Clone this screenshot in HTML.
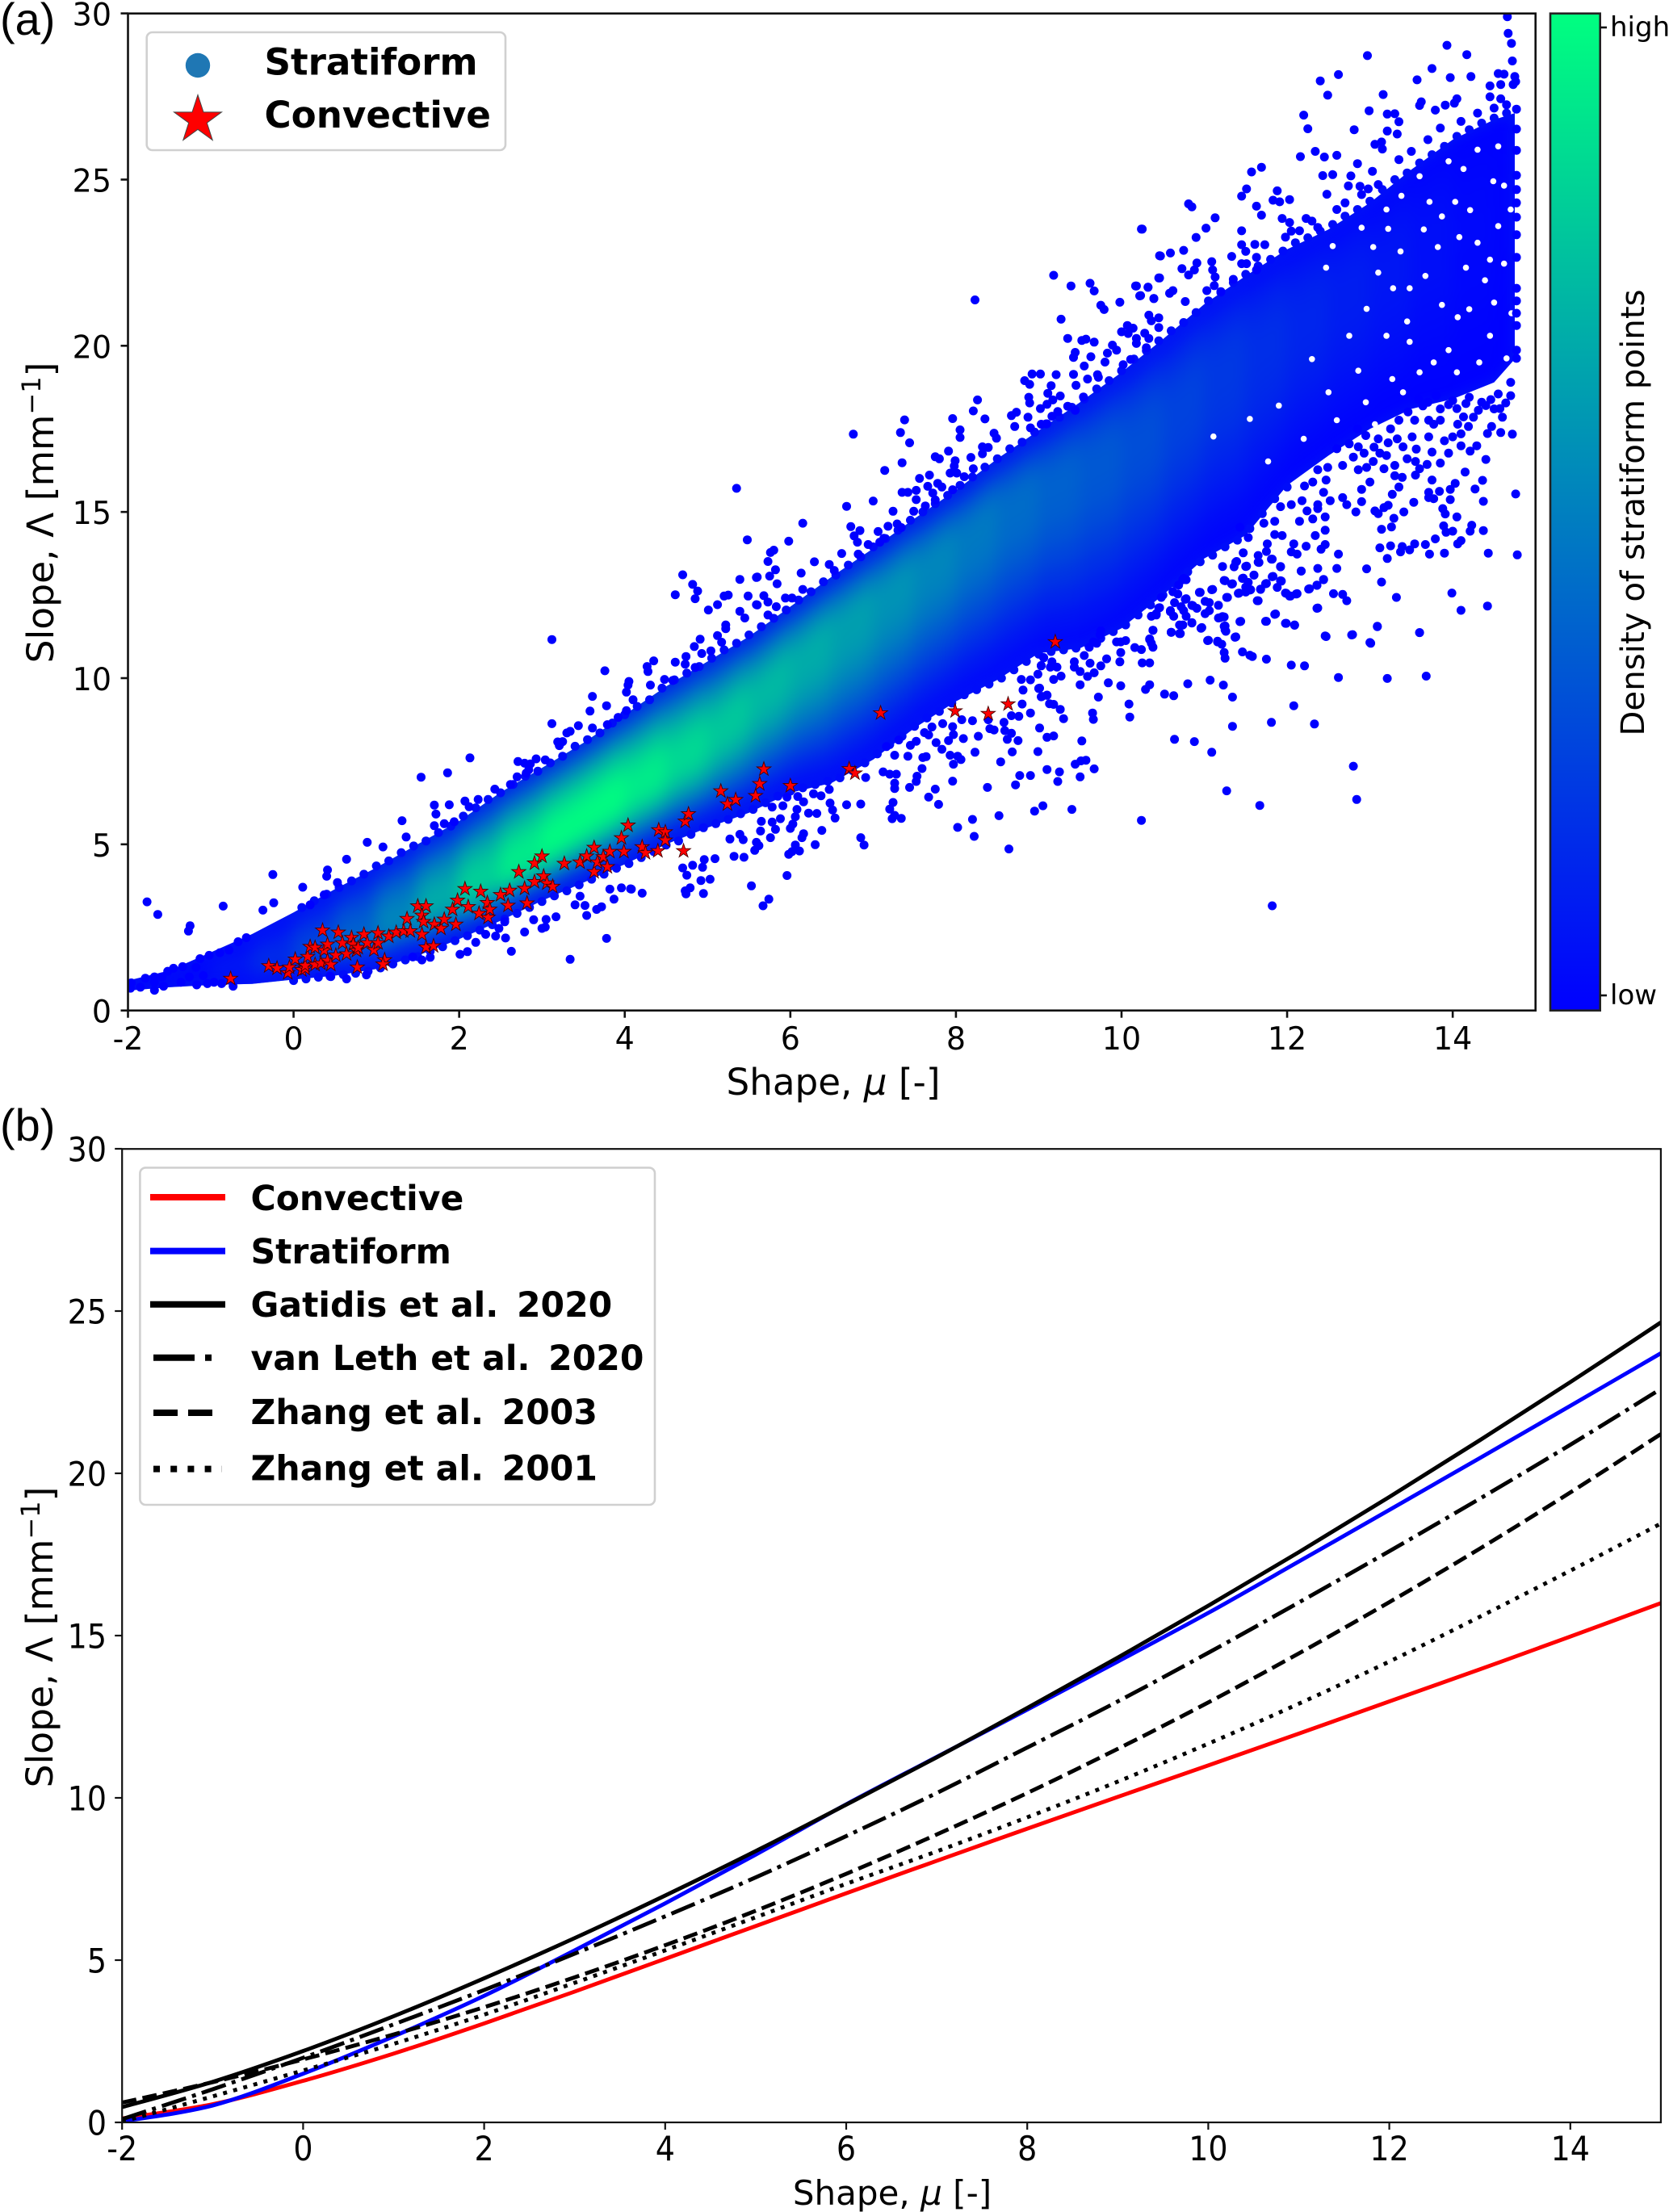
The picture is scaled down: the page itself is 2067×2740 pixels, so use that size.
<!DOCTYPE html>
<html lang="en">
<head>
<meta charset="utf-8">
<title>Shape-slope relation of rain drop size distributions</title>
<style>
html,body{margin:0;padding:0;background:#fff;}
svg{display:block;}
text{font-family:"DejaVu Sans","Liberation Sans",sans-serif;fill:#000;white-space:pre;}
.panel-tag{font-family:"Liberation Sans",sans-serif;font-size:56px;}
.tick{font-size:38px;}
.cbtick{font-size:34px;}
.axis-title{font-size:45.2px;}
.axis-title-y{font-size:45.6px;}
.axis-title-b{font-size:42px;}
.leg-a{font-size:45.2px;font-weight:bold;}
.leg-b{font-size:42.5px;font-weight:bold;}
</style>
</head>
<body>
<svg id="figure" xmlns="http://www.w3.org/2000/svg" width="2067" height="2740" viewBox="0 0 2067 2740">
  <defs>
    <clipPath id="clip-a"><rect x="158.5" y="16.7" width="1743.2" height="1235"/></clipPath>
    <clipPath id="clip-b"><rect x="151.2" y="1423.2" width="1905.7" height="1205.8"/></clipPath>
    <clipPath id="clip-band"><polygon id="band-clip-shape" points="0,0"/></clipPath>
    <filter id="soft" x="-3%" y="-3%" width="106%" height="106%" color-interpolation-filters="sRGB"><feGaussianBlur stdDeviation="9"/></filter>
    <linearGradient id="winter" x1="0" y1="0" x2="0" y2="1">
      <stop offset="0" stop-color="rgb(0,255,128)"/>
      <stop offset="1" stop-color="rgb(0,0,255)"/>
    </linearGradient>
  </defs>

  <rect x="0" y="0" width="2067" height="2740" fill="#fff"/>

  <text class="panel-tag" x="0" y="43">(a)</text>
  <text class="panel-tag" x="0" y="1413">(b)</text>

  <g id="plot-a" clip-path="url(#clip-a)">
    <g id="band-under"></g>
    <g clip-path="url(#clip-band)">
      <g id="band-mesh" filter="url(#soft)"></g>
    </g>
    <g id="band-gaps"></g>
    <g id="strat-dots"></g>
    <g id="conv-stars"></g>
  </g>
  <rect x="158.5" y="16.7" width="1743.2" height="1235" fill="none" stroke="#111" stroke-width="2.6"/>
  <g id="axes-a"></g>

  <text class="axis-title" x="1032" y="1356" text-anchor="middle">Shape, <tspan font-style="italic">μ</tspan> [-]</text>
  <text class="axis-title-y" transform="translate(66,635) rotate(-90)" text-anchor="middle">Slope, Λ [mm<tspan dy="-16" font-size="32">−1</tspan><tspan dy="16">]</tspan></text>

  <g>
    <rect x="181.7" y="40" width="444.3" height="146" rx="7" fill="#fff" stroke="#d0d0d0" stroke-width="2.6"/>
    <circle cx="245" cy="81" r="15.2" fill="#1f77b4"/>
    <text class="leg-a" x="327.5" y="92.7">Stratiform</text>
    <path id="legend-star" fill="#f00" stroke="#444" stroke-width="1"/>
    <text class="leg-a" x="327.5" y="158">Convective</text>
  </g>

  <g>
    <rect x="1920" y="16.7" width="61.7" height="1235" fill="url(#winter)" stroke="#222" stroke-width="2.6"/>
    <line x1="1981.7" x2="1990" y1="34" y2="34" stroke="#111" stroke-width="2.6"/>
    <line x1="1981.7" x2="1990" y1="1233" y2="1233" stroke="#111" stroke-width="2.6"/>
    <text class="cbtick" x="1994" y="45">high</text>
    <text class="cbtick" x="1994" y="1244">low</text>
    <text font-size="40.3" transform="translate(2036,635) rotate(-90)" text-anchor="middle">Density of stratiform points</text>
  </g>

  <g id="plot-b" clip-path="url(#clip-b)"></g>
  <rect x="151.2" y="1423.2" width="1905.7" height="1205.8" fill="none" stroke="#111" stroke-width="2.2"/>
  <g id="axes-b"></g>

  <text class="axis-title-b" x="1105" y="2731" text-anchor="middle">Shape, <tspan font-style="italic">μ</tspan> [-]</text>
  <text class="axis-title-y" transform="translate(65,2028) rotate(-90)" text-anchor="middle">Slope, Λ [mm<tspan dy="-16" font-size="32">−1</tspan><tspan dy="16">]</tspan></text>

  <g>
    <rect x="173.4" y="1446.4" width="637.6" height="417.6" rx="7" fill="#fff" stroke="#d0d0d0" stroke-width="2.6"/>
    <line x1="186" x2="279" y1="1483" y2="1483" stroke="#f00" stroke-width="8"/>
    <line x1="186" x2="279" y1="1549.6" y2="1549.6" stroke="#00f" stroke-width="8"/>
    <line x1="186" x2="279" y1="1615.7" y2="1615.7" stroke="#000" stroke-width="8"/>
    <line x1="190" x2="275" y1="1681.8" y2="1681.8" stroke="#000" stroke-width="8" stroke-dasharray="51 13 8 13"/>
    <line x1="190" x2="275" y1="1750" y2="1750" stroke="#000" stroke-width="8" stroke-dasharray="30 13"/>
    <line x1="190" x2="275" y1="1819.6" y2="1819.6" stroke="#000" stroke-width="8" stroke-dasharray="8 13.2"/>
    <text class="leg-b" x="310.5" y="1499">Convective</text>
    <text class="leg-b" x="310.5" y="1565">Stratiform</text>
    <text class="leg-b" x="310.5" y="1631">Gatidis et al.  <tspan dx="-7">2020</tspan></text>
    <text class="leg-b" x="310.5" y="1697">van Leth et al.  <tspan dx="-7">2020</tspan></text>
    <text class="leg-b" x="310.5" y="1764">Zhang et al.  <tspan dx="-7">2003</tspan></text>
    <text class="leg-b" x="310.5" y="1833.5">Zhang et al.  <tspan dx="-7">2001</tspan></text>
  </g>
</svg>

<script>
/* ---------- axis tick values ---------- */
const xTicks = [-2,0,2,4,6,8,10,12,14];
const yTicks = [0,5,10,15,20,25,30];

/* ---------- panel (a): stratiform density cloud ---------- */
const bandMu     = [-2,-1.5,-1,-0.5,0,0.5,1,1.5,2,2.5,3,3.5,4,4.5,5,5.5,6,6.5,7,7.5,8,8.5,9,9.5,10,10.5,11,11.5,12,12.5,13,13.5,14,14.5,14.75];
const bandTop    = [0.9,1.2,1.75,2.3,2.95,3.65,4.3,5,5.7,6.56,7.3,8.05,8.9,9.75,10.5,11.25,12.15,13.05,13.9,14.8,15.65,16.6,17.45,18.3,19.2,20.2,21.25,22.1,22.9,23.5,24.3,25.3,26.2,26.8,27];
const bandBottom = [0.6,0.7,0.77,0.8,0.93,1.05,1.25,1.65,2.15,2.7,3.3,3.85,4.4,5,5.5,5.95,6.55,6.85,7.55,8.5,9.3,9.95,10.75,10.9,11.5,12.5,13.6,14.3,15.8,16.7,17.5,18.1,18.4,18.9,19.6];
const bandRidge  = [0.7,0.9,1.1,1.3,1.6,2,2.45,3,3.6,4.2,4.95,5.75,6.55,7.3,8.1,9.2,10.3,11.3,12.2,13.1,14,15,15.7,16.3,16.9,17.7,18.9,19.7,20.5,21.3,22,22.7,23.3,23.9,24.2];
const bandPeak   = [0,0.02,0.06,0.12,0.22,0.32,0.45,0.6,0.75,0.88,0.97,1,0.97,0.88,0.82,0.75,0.7,0.65,0.6,0.55,0.5,0.45,0.4,0.36,0.33,0.28,0.24,0.2,0.16,0.13,0.1,0.07,0.04,0.02,0.01];
const lowerSideDensity = [0.04,0.12,0.28,0.46,0.64,0.8,0.93,1,1];
const upperSideDensity = [1,1,0.96,0.88,0.78,0.65,0.5,0.34,0.18];

/* white gaps between points in the sparse right part of the cloud */
const cloudGaps = [[13.38,24.51],[13.72,24.33],[13.87,23.89],[14.03,24.33],[14.21,24.08],[14.49,24.95],[14.62,24.82],[14.13,25.32],[13.04,22.97],[13.22,23.52],[13.37,22.84],[13.82,22.97],[14.08,23.27],[14.45,22.59],[13.48,21.73],[13.28,21.73],[13.67,22.1],[13.87,21.23],[14.16,22.35],[14.39,21.97],[14.06,20.86],[13.45,20.73],[13.77,19.5],[12.86,19.25],[13.27,19],[12.6,17.76],[13.06,17.64],[11.77,16.52],[11.11,17.27],[12.47,22.35],[12.96,21.11],[13.48,20.12],[13.95,19.87],[14.32,19.5],[14.62,22.47],[14.71,20.98],[14.65,19.62],[13.51,18.01],[14.3,25.9],[14.55,26],[13.95,25.55],[13.6,25.1],[13.2,24.1],[12.9,23.55],[12.55,23],[13.1,22.2],[13.65,23.5],[14.3,23.1],[14.55,23.6],[14.7,24.1],[14.2,21.1],[14.5,21.3],[14.45,20.3],[14.05,19.2],[13.6,19.2],[13.2,20.3],[12.75,20.3],[12.3,19.6],[12.5,18.6],[12.95,18.3],[13.4,18.6],[12.2,17.2],[11.9,18.2],[11.55,17.8]];

/* ---------- panel (a): individual stratiform points ---------- */
const stratLeftTail = [[-1.96,.83],[-1.97,.67],[-1.85,.7],[-1.68,.61],[-1.57,.73],[-1.79,.97],[-1.68,1.01],[-1.59,1.01],[-1.68,.85],[-1.36,.85],[-1.52,1.18],[-1.45,1.27],[-1.34,1.32],[-1.26,1.01],[-1.18,1.3],[-1.13,1.56],[-1.17,.77],[-1.09,1.05],[-1.04,.81],[-.96,.85],[-.87,.81],[-1.02,1.66],[-.89,1.74],[-.73,.73],[-.57,2.19],[-.67,2.07],[-.78,1.82],[-1.77,3.27],[-1.64,2.89],[-.85,3.14],[-.37,3.02],[-.24,3.24],[-1.25,2.55],[-1.27,2.39],[-.25,4.09],[.11,3.71],[.37,3.48],[.2,3.18],[.89,5.06],[1.08,4.92],[.64,4.55],[.41,4.23],[.4,4.04],[.53,3.85]];

const stratUpperMid = [[5.35,15.71],[5.48,14.16],[4.7,13.11],[4.82,12.82],[4.88,12.62],[4.61,12.51],[4.85,12.39],[5.39,12.97],[5.59,13.03],[5.2,12.47],[5.25,12.5],[5.49,12.47],[5.12,12.21],[5.01,12.05],[5.59,12.21],[5.39,12.01],[5.45,11.81],[5.22,11.6],[5.22,11.49],[5.12,11.28],[4.91,11.17],[4.84,10.95],[5.17,11.08],[5.04,10.82],[4.93,10.74],[4.74,10.65],[4.61,10.48],[4.73,10.42],[4.35,10.52],[4.27,10.35],[4.28,10.2],[4.85,10.32],[3.76,10.22],[4.58,9.93],[4.48,9.96],[4.05,9.9],[4.04,9.79],[4.31,9.79],[4.02,9.58],[3.12,11.16],[3.61,9.45],[3.78,9.17],[3.58,9.01],[4.1,9.35],[4.02,9.02],[3.92,8.82],[3.12,8.63],[3.44,8.57],[3.61,8.5],[3.79,8.6],[3.34,8.4],[3.3,8.35],[3.25,8.09],[3.19,8.08],[3.21,7.97],[2.13,7.6],[1.86,7.15],[1.54,7.02],[2.71,7.49],[2.79,7.44],[2.86,7.42],[2.93,7.57],[3.04,7.54],[2.84,7.24],[2.81,7.14],[2.7,7.03],[2.43,6.66],[2.62,6.8],[1.7,6.18],[1.88,6.19],[1.72,5.91],[2.07,6.3],[2.12,6.13],[2.23,6.35],[1.31,5.71],[1.7,5.56],[1.82,5.62],[1.94,5.68],[1.36,5.22]];

const stratUpperRight = [[10.25,23.51],[10.46,22.71],[10.45,22.04],[9.18,22.12],[9.39,21.8],[9.62,21.88],[9.67,21.65],[8.23,21.38],[10.18,21.8],[10.32,21.76],[10.23,21.51],[10.39,21.42],[9.98,21.31],[9.75,21.22],[9.79,21.09],[9.27,20.8],[10.33,20.92],[10.36,20.75],[10.45,20.84],[10.07,20.61],[10,20.42],[10.08,20.37],[10.14,20.53],[10.45,20.55],[10.28,20.38],[10.18,20.22],[10.18,20.07],[10.33,20.22],[9.35,20.22],[9.52,20.16],[9.57,20.2],[9.67,20.11],[9.89,20.02],[9.94,19.87],[9.83,19.78],[9.44,19.8],[9.42,19.65],[9.63,19.67],[9.8,19.51],[9.55,19.39],[10.3,19.94],[10.11,19.59],[10.02,19.43],[8.92,19.15],[9.02,19.15],[9.21,19.13],[8.83,18.95],[8.89,18.84],[9.42,19.14],[9.71,19.13],[9.72,19.05],[9.59,19],[9.45,18.81],[9.15,18.8],[9.11,18.57],[9.26,18.49],[9.17,18.37],[8.88,18.45],[8.89,18.28],[8.26,18.37],[8.21,18.04],[7.96,17.81],[8.35,17.8],[7.38,17.77],[7.33,17.39],[7.44,17.08],[6.76,17.34],[8.05,17.47],[8.05,17.24],[8.46,17.37],[8.49,17.22],[8.67,17.9],[8.73,18],[8.87,17.85],[8.71,17.57],[9.1,18.24],[9.02,18.11],[9.35,18.18],[9.44,18.06],[9.54,18.46],[9.16,17.88],[9.23,18.02],[9.03,17.64],[9.09,17.65],[8.9,17.53],[8.32,16.96],[8.39,16.94],[8.32,16.75],[7.91,16.83],[7.75,16.66],[7.8,16.6],[8.18,16.64],[7.99,16.54],[7.98,16.38],[7.35,16.48],[7.14,16.25],[8.21,16.3],[7.93,16.17],[8.01,16.17],[8.1,16.06],[7.56,16.01],[7.68,16.11],[7.78,15.86],[7.83,15.75],[7.66,15.77],[7.52,15.65],[7.35,15.59],[7.42,15.59],[7.72,15.57],[7.75,15.36],[7.52,15.37],[7,15.33],[6.68,15.17],[7.63,15.18],[7.24,15.02],[7.49,15.02],[7.96,15.67],[6.15,14.66],[6.73,14.56],[6.84,14.44],[7.06,14.41],[7.18,14.57],[7.29,14.64],[7.34,14.53],[6.77,14.28],[6.81,14.09],[7.13,14.21],[7.08,14.09],[6.94,14.02],[5.98,14.12],[5.8,13.85],[5.76,13.78],[5.73,13.51],[5.82,13.26],[5.75,13.07],[5.6,13.04],[5.84,12.84],[6.29,13.5],[6.13,13.16],[6.62,13.75],[6.47,13.42],[6.53,13.24],[6.82,13.73],[6.15,12.67],[5.68,12.48],[5.73,12.29],[5.6,12.2],[5.94,12.41],[6.02,12.41],[5.83,12.15],[5.73,11.9]];

const stratTopRight = [[14.66,29.9],[14.67,29.4],[14.71,29.1],[14.72,28.57],[13.93,29.04],[14.17,28.76],[12.97,28.73],[13.75,28.34],[13.97,28.07],[14.22,28.1],[13.57,28],[12.4,27.97],[12.62,28.16],[12.49,27.54],[13.16,27.56],[12.2,26.94],[12.25,26.53],[12.99,27.07],[12.81,26.5],[13.21,26.97],[13.3,26.98],[13.35,26.74],[13.21,26.46],[13.33,26.37],[13.62,27.34],[13.6,27.23],[13.79,27.09],[13.91,27.24],[14.05,27.43],[14.02,27.3],[14.55,28.19],[14.62,28.17],[14.75,28.1],[14.45,27.82],[14.58,27.86],[14.73,27.86],[14.76,27.95],[14.45,27.49],[14.58,27.43],[12.16,25.69],[12.34,25.85],[12.45,25.68],[12.6,25.73],[12.85,25.48],[13.03,25.25],[12.43,25.12],[12.55,25.15],[12.77,25.11],[12.88,24.8],[12.98,24.72],[12.74,24.81],[12.48,24.56],[13.06,26.06],[13.14,26.13],[13.15,25.92],[11.69,25.37],[11.57,25.23],[11.51,24.72],[11.45,24.5],[11.88,24.66],[12.03,24.4],[11.83,24.38],[11.91,24.33],[11.63,24.2],[11.69,23.93],[10.81,24.27],[10.85,24.18],[11.13,23.85],[11.02,23.54],[10.9,23.26],[10.24,23.51],[11.45,23.46],[10.47,22.7],[10.59,22.79],[10.75,22.87],[10.91,22.49],[10.73,22.32],[10.88,22.28],[10.81,22.13],[11.09,22.53],[11.1,22.28],[11.13,22.07],[10.46,22.04],[10.17,21.8],[10.32,21.76],[10.22,21.5],[10.39,21.42],[10.62,21.66],[10.58,21.58],[10.77,21.33],[11.03,21.66],[11.12,21.81],[11.2,21.63],[11.35,22],[11.45,23.04],[11.61,23.05],[11.73,23.04],[11.33,22.69],[11.5,22.84],[11.63,22.66],[11.45,22.47],[11.51,22.47],[11.63,22.28],[11.94,23.83],[12.03,23.71],[11.98,23.27],[12.15,23.46],[12.23,23.83],[12.37,23.56],[14.77,23.34],[14.77,23.87],[14.77,24.3],[14.77,24.7],[14.77,25.13],[14.77,25.88],[14.77,26.52],[14.77,27.12],[14.77,22.66],[14.77,21.73],[14.77,21.35],[14.77,20.98],[14.77,20.61],[14.77,19.87],[14.77,19.62],[13.35,25.6],[13.5,25.85],[13.7,26.2],[13.85,26.55],[14.1,26.75],[14.3,27],[14.5,27.15],[14.65,27.25],[13.1,24.85],[12.9,24.55],[12.6,24.1],[12.3,23.75],[12.05,23.45],[12.7,24.3]];

const stratLowerLeft = [[.44,1.03],[.64,.95],[.88,1.07],[1.44,1.61],[1.55,1.52],[1.65,1.6],[2.01,1.69],[2.1,1.77],[2.63,1.78],[2.2,2.05],[2.56,2.18],[2.32,2.29],[2.44,2.24],[2.79,2.36],[3,2.47],[3.04,2.51],[3.78,2.17],[3.34,1.54],[3.17,2.82],[3.05,2.74],[2.9,2.73],[3.54,2.86],[3.4,3.18],[3.52,3.16],[3.66,3.04],[3.72,3.12],[3.87,3.35],[3.96,3.69],[4.07,3.66],[4.21,3.53],[3.82,3.65],[3.46,3.44],[2.55,2.67],[2.48,2.47],[4.08,3.65]];

const stratLowerMid = [[4.74,3.51],[4.73,3.6],[4.79,3.69],[4.95,3.52],[4.92,3.91],[5.03,3.95],[4.75,4.07],[4.7,4.29],[4.94,4.31],[4.82,4.37],[4.96,4.54],[5.09,4.57],[5.32,4.64],[5.44,4.61],[5.53,3.75],[5.74,3.35],[5.67,3.15],[5.96,4.06],[5.98,4.7],[6.02,4.78],[6.11,4.8],[6.06,4.98],[5.57,4.82],[5.59,5.06],[5.62,4.96],[6.3,4.99],[6.14,5.2],[6.16,5.32],[6.38,5.42],[5.76,5.2],[5.64,5.4],[5.82,5.45],[6,5.48],[6.03,5.61],[5.43,5.14],[5.39,5.3],[5.27,5.16],[5.65,5.69],[5.78,5.67],[5.88,5.77],[6.06,5.83],[6.08,6.05],[6.16,6.28],[6.22,5.94],[6.32,5.93],[5.91,6.16],[5.78,6.12],[6.54,5.79],[6.51,6.03],[6.48,6.24],[6.68,6.19],[6.85,6.21],[6.85,5.2],[6.89,4.98],[6.28,6.52],[6.37,6.46],[6.47,6.65],[6.09,6.44],[5.96,6.42],[7.23,5.77],[7.34,5.78],[7.26,5.87],[7.2,6.06],[7.24,6.26],[7.26,6.84],[7.26,6.68],[7.44,6.71],[7.52,6.89],[7.53,7.05],[7.59,7.28],[7.12,7.18],[7.2,7.11],[7.28,7.11],[6.91,7.01],[7.26,7.68],[7.42,7.65],[7.6,7.61],[7.64,7.64],[7.16,7.94],[7.31,8.14],[7.52,8.1],[7.45,7.98],[7.62,8.36],[7.67,8.29],[7.71,8.53],[7.75,6.66],[7.67,6.42],[7.79,6.2],[8.02,5.51],[8.2,5.75],[8.22,5.24],[8.52,5.86],[8.64,4.86],[8.95,6],[9.05,6.16],[8.38,6.71],[8.72,6.79],[8.77,7.07],[8.9,7.07],[9.1,7.25],[7.96,6.9],[7.97,7.41],[7.93,7.68],[8.02,7.65],[8.06,7.55],[8.23,7.77],[7.83,7.86],[7.76,8.06],[7.91,8.12],[7.97,8.3],[8.09,8.18],[8.27,8.25],[8.54,7.48],[8.68,7.78],[8.99,7.79],[8.75,8.12],[8.62,8.16],[8.67,8.34],[8.58,8.67],[8.59,8.42],[8.41,8.48],[8.46,8.44],[9.01,8.5],[9.1,8.22],[8.9,8.95],[8.76,8.85],[8.67,8.87],[8.8,9.22],[9.03,9.44],[9.1,9.48],[8.81,9.64],[9,9.69],[8.2,8.72],[8.07,8.75],[8.39,8.75],[7.96,8.54],[7.84,8.63],[8.99,10.12],[9.03,10.37],[9.06,10.61],[8.9,9.95],[8.79,9.96]];

const stratLowerRight = [[11.82,3.15],[10.24,5.72],[11.27,6.61],[11.67,6.17],[12.84,6.35],[12.8,7.35],[9.4,6.05],[9.25,7.18],[9.23,6.89],[9.5,7.03],[9.67,7.27],[9.44,7.41],[9.51,7.51],[9.57,7.53],[11.09,7.77],[10.88,8.09],[10.64,8.16],[9.52,8.11],[9.18,8.26],[11.34,8.55],[11.81,8.67],[12.33,8.62],[12.08,9.17],[11.34,9.43],[10.1,8.83],[10.09,9.22],[9.66,8.76],[9.65,8.95],[9.3,8.78],[9.26,9.06],[9.13,9.23],[9.18,9.21],[9.72,9.43],[9.04,9.45],[9.1,9.49],[9.01,9.7],[9.5,9.8],[9.84,9.86],[9.99,9.77],[10.29,9.66],[10.34,9.8],[10.52,9.52],[10.63,9.47],[10.8,9.83],[11.07,9.94],[11.23,9.79],[12.62,10.02],[13.21,9.99],[13.68,10.06],[12.05,10.39],[12.21,10.37],[11.75,10.57],[11.58,10.65],[11.55,10.69],[11.46,10.79],[11.25,10.6],[11.24,10.77],[11.21,11.02],[11.16,11.11],[11.05,11.14],[11.38,11.24],[12.46,11.27],[12.79,11.31],[13.01,11.05],[13.09,11.56],[13.6,11.37],[11.99,11.65],[12.09,11.6],[11.75,11.71],[11.86,11.93],[11.43,11.7],[11.25,11.57],[11.26,11.41],[10.97,11.52],[10.74,11.6],[10.7,11.6],[10.85,11.67],[10.6,11.38],[10.71,11.34],[10.38,11.44],[10.34,11.18],[10.36,11.05],[10.38,10.93],[10.16,10.92],[10.24,10.86],[10.25,10.46],[10.34,10.46],[9.98,10.49],[9.99,10.77],[9.82,10.58],[9.75,10.37],[9.67,10.16],[9.59,10.05],[9.62,10.45],[9.43,10.49],[9.43,10.33],[9.5,10.2],[9.27,10.06],[9.18,9.96],[9.22,10.33],[9.14,10.33],[9.16,10.49],[9.03,10.38],[9.06,10.62],[9.55,10.68],[9.94,11.09],[9.99,11.09],[10.05,11.13],[9.74,11.3],[9.75,11.42],[9.66,11.09],[9.7,11.05],[9.61,10.93]];

const stratLowerFar = [[14.76,15.54],[14.78,13.71],[14.42,12.17],[14.1,12.04],[13.99,12.56],[13.6,11.37],[13.32,12.43],[13.09,11.55],[13,11.07],[12.78,11.3],[12.47,11.25],[13.14,12.89],[12.96,13.29],[12.72,12.33],[12.67,12.52],[12.56,12.54],[12.36,12.1],[12.44,12.97],[12.36,12.8],[12.26,12.68],[12.11,12.53],[12.03,12.47],[11.98,12.56],[12.09,11.59],[11.98,11.65],[11.85,11.92],[11.74,11.71],[11.44,11.71],[11.37,11.23],[11.24,11.56],[11.25,11.45],[11.16,11.09],[11.04,11.13],[10.96,11.5],[10.7,11.34],[10.6,11.38],[10.85,11.66],[10.73,11.59],[11.17,11.81],[11.22,11.85],[10.34,11.16],[10.38,11.44],[10.42,11.94],[10.46,12.12],[10.59,12],[11.64,12.33],[11.27,12.43],[11.42,12.56],[11.55,12.65],[11.68,12.68],[11.82,13.05],[11.92,12.93],[11.74,12.84],[11.6,13.1],[11.46,13],[11.33,12.83],[11.24,12.94],[11.09,12.66],[10.94,12.58],[11.01,12.31],[10.86,12.18],[10.77,12.37],[12.17,13.22],[12.37,13.3],[12.6,13.3],[11.92,13.35],[11.5,13.36],[11.81,13.58],[11.65,13.49],[12.12,13.73],[12.05,13.8],[12.23,13.97],[12.46,14.02],[12.41,13.88],[12.62,13.73],[13.21,13.6],[13.12,13.92],[13.25,13.98],[13.37,13.8],[13.39,13.96],[13.48,13.86],[13.54,14.04],[13.67,14.02],[13.72,13.73],[13.9,13.76],[14.43,13.76],[14.06,14.04],[14.1,14.14],[13.79,14.19],[14.37,14.44],[14,14.42],[13.92,14.39],[14.23,14.6],[14.21,14.42],[13.89,14.58],[14.05,14.85],[13.91,14.94],[13.88,15.1],[14.37,15.32],[13.97,15.37],[14.27,15.69],[14.36,15.95],[14.03,15.86],[14.15,16.2],[13.75,15.96],[13.97,15.68],[13.84,15.62],[13.71,15.59],[13.71,15.43],[13.77,15.4],[13.53,15.29],[13.41,15],[13.29,14.81],[13.26,14.55],[13.14,14.48],[13.22,15.2],[13.17,15.13],[13.06,15.03],[13.1,14.95],[13.27,15.53],[13.35,15.75],[13.3,16.09],[13.39,16.04],[13.55,16.11],[13.17,16.3],[13,15.9],[12.9,15.68],[12.9,15.31],[12.83,15],[12.72,15.22],[12.67,15.43],[12.52,15.34],[13.85,16.47],[13.69,16.43],[13.55,16.52],[13.95,16.77],[14.21,16.83],[14.29,16.99],[14.1,16.99],[14.4,16.58],[14.72,17.34],[14.58,17.39],[14.47,17.57],[14.42,17.36],[14.19,17.57],[14.06,17.64],[14.31,18.06],[14.57,18.11],[14.64,18.28],[14.16,18.26],[13.95,18.23],[14.46,18.38],[14.4,18.2],[14.05,18.11],[14.13,17.86],[12.34,14.29],[12.46,14.45],[12.46,14.85],[12.37,15.1],[12.08,14.04],[11.94,14.29],[11.85,14.32],[11.76,14.04],[11.53,14.23],[11.38,13.49],[11.22,13.36],[10.75,13],[10.62,12.6],[10.91,12.1],[11.06,12.27],[11.01,11.94],[11.06,12.03],[10.85,12.19],[11.17,12.19],[11.19,11.82],[11.24,11.84],[10.78,11.86],[10.72,12.15],[10.75,12.03],[10.59,12.03],[10.63,11.86],[10.64,12.27],[10.78,12.39],[10.68,12.53],[10.36,11.86],[10.42,11.9],[10.45,12.11],[10.95,12.58],[11.1,12.67],[11.28,12.43],[10.48,12.43],[10.69,12.8],[10.74,12.96],[10.78,12.96],[11.25,12.93],[11.34,12.84],[11.41,12.55],[11.5,12.59],[11.56,12.66],[11.47,13.01],[11.53,12.88],[11.5,12.74],[11.68,12.67],[11.75,12.85],[11.65,12.33],[11.83,13.06],[11.93,12.92],[11.88,12.73],[11.99,12.55],[12.04,12.47],[12.12,12.54],[12.27,12.69],[12.36,12.79],[12.44,12.96],[12.37,12.11],[11.6,13.1],[11.51,13.37],[11.39,13.51],[11.36,13.35],[12.17,13.22],[11.92,13.36],[11.82,13.58],[11.65,13.69],[11.66,13.48],[11.75,13.81],[11.47,13.77]];

/* points crowding the lower side of the sparse right part */
const stratLowerCrowd = [[12.86,16.96],[12.93,16.77],[13.04,16.52],[13.12,16.77],[13.22,17.08],[13.33,17.2],[13.4,16.96],[13.51,17.26],[13.56,16.89],[13.54,17.76],[13.46,18.01],[13.35,17.76],[13.71,17.26],[13.77,17.64],[13.85,17.76],[13.9,17.14],[14,17.26],[13.71,17.76],[13.8,18.5],[13.64,18.19],[13.59,18.38],[12.8,16.65],[12.86,16.27],[12.96,16.34],[12.67,16.4],[12.49,16.34],[12.37,16.27],[12.47,15.96],[12.31,15.9],[12.21,15.78],[12.44,15.59],[12.18,15.34],[12.24,15.03],[12.37,15.22],[12.05,15.22],[11.92,15.16],[12.15,14.72],[12.31,14.79],[11.85,14.72],[11.72,14.66],[11.43,14.54],[13.1,17.2],[13.25,17.5],[12.95,17.3],[12.85,17.5],[13.05,16.95],[13.2,16.7],[13.3,16.4],[13.45,16.6],[13.6,16.3],[13.75,16.8],[14.1,17.35],[14.25,17.85],[14.35,18.3],[14.5,18.1],[14.6,17.85],[14.7,18.5],[14.7,18.9],[14.55,18.55],[14.2,18.45],[14,18.35],[13.85,18.1],[13.7,18.3],[12.6,16.9],[12.75,17.05]];

/* points that form the rough upper and lower edges of the dense cloud */
const stratUpperEdge = [[.1,3.1],[.25,3.3],[.4,3.5],[.55,3.7],[.7,3.9],[.85,4.1],[1,4.35],[1.15,4.5],[1.3,4.75],[1.45,4.95],[1.6,5.1],[1.75,5.35],[1.9,5.55],[2.05,5.85],[2.2,6.1],[2.35,6.35],[2.5,6.55],[2.65,6.8],[2.8,7.05],[2.95,7.2],[3.1,7.45],[3.25,7.65],[3.4,7.95],[3.55,8.15],[3.7,8.35],[3.85,8.65],[4,8.9],[4.15,9.15],[4.3,9.35],[4.45,9.7],[4.6,9.95],[4.75,10.15],[4.9,10.35],[5.05,10.6],[5.2,10.85],[5.35,11.05],[5.5,11.3],[5.65,11.55],[5.8,11.8],[5.95,12.05],[6.1,12.35],[6.25,12.6],[6.4,12.9],[6.55,13.1],[6.7,13.4],[6.85,13.65],[7,13.95],[7.15,14.2],[7.3,14.45],[7.45,14.75],[7.6,15],[7.75,15.25],[7.9,15.5],[8.05,15.8],[8.2,16.05],[8.35,16.35],[8.5,16.6],[8.65,16.9],[8.8,17.1],[8.95,17.4],[9.1,17.65],[9.25,17.85],[9.4,18.15],[9.55,18.4],[9.7,18.7],[9.85,18.95],[10,19.25],[10.15,19.6],[10.3,19.85],[10.45,20.15],[10.6,20.45],[10.75,20.7],[10.9,21],[11.05,21.35],[11.2,21.6],[11.35,21.9],[11.5,22.15],[11.65,22.4],[11.8,22.6],[11.95,22.85],[12.1,23.1],[12.25,23.25],[12.4,23.45],[12.55,23.65],[12.7,23.9],[12.85,24.1],[13,24.35],[13.15,24.7],[13.3,25],[13.45,25.2],[13.6,25.5],[13.75,25.75],[13.9,26],[14.05,26.3],[14.2,26.5],[14.35,26.7],[14.5,26.85],[14.65,27]];

const stratLowerEdge = [[0,.9],[.15,.95],[.3,1],[.45,1.02],[.6,1.08],[.75,1.12],[.9,1.18],[1.05,1.28],[1.2,1.4],[1.35,1.52],[1.5,1.62],[1.65,1.78],[1.8,1.92],[1.95,2.1],[2.1,2.25],[2.25,2.42],[2.4,2.58],[2.55,2.75],[2.7,2.92],[2.85,3.1],[3,3.28],[3.15,3.45],[3.3,3.6],[3.45,3.78],[3.6,3.95],[3.75,4.1],[3.9,4.28],[4.05,4.42],[4.2,4.6],[4.35,4.78],[4.5,4.98],[4.65,5.1],[4.8,5.3],[4.95,5.5],[5.1,5.62],[5.25,5.75],[5.4,5.92],[5.55,6.05],[5.7,6.25],[5.85,6.45],[6,6.6],[6.15,6.7],[6.3,6.8],[6.45,6.9],[6.6,7],[6.75,7.22],[6.9,7.45],[7.05,7.72],[7.2,8],[7.35,8.25],[7.5,8.55],[7.65,8.8],[7.8,9],[7.95,9.25],[8.1,9.5],[8.25,9.65],[8.4,9.82],[8.55,10],[8.7,10.25],[8.85,10.5],[9,10.72],[9.15,10.8],[9.3,10.85],[9.45,10.9],[9.6,11],[9.75,11.2],[9.9,11.4],[10.05,11.6],[10.2,11.9],[10.35,12.2],[10.5,12.5],[10.65,12.85],[10.8,13.2],[10.95,13.5],[11.1,13.7],[11.25,13.95],[11.4,14.15],[11.55,14.5],[11.7,14.95],[11.85,15.4],[12,15.75]];

/* ---------- panel (a): convective points ---------- */
const convectivePoints = [[-.76,.96],[-.3,1.34],[-.2,1.27],[-.07,1.13],[-.05,1.3],[.02,1.54],[.1,1.22],[.14,1.26],[.14,1.35],[.17,1.62],[.2,1.92],[.26,1.89],[.26,1.38],[.33,1.42],[.35,2.41],[.37,1.81],[.41,1.99],[.41,1.5],[.45,1.38],[.51,1.66],[.54,2.35],[.59,2.03],[.64,1.7],[.7,2.19],[.72,1.99],[.76,1.8],[.77,1.3],[.78,1.89],[.85,2.29],[.89,2.03],[.97,1.82],[1.02,2.33],[1.02,2.03],[1.1,1.52],[1.08,1.39],[1.15,2.23],[1.24,2.35],[1.33,2.39],[1.37,2.76],[1.41,2.39],[1.5,3.14],[1.6,3.14],[1.55,2.86],[1.57,2.67],[1.55,2.29],[1.6,1.9],[1.69,1.94],[1.7,2.59],[1.78,2.47],[1.82,2.74],[1.92,3.04],[1.96,2.59],[1.98,3.31],[2.07,3.66],[2.11,3.12],[2.24,2.92],[2.26,3.58],[2.34,3.24],[2.35,2.8],[2.37,3.04],[2.5,3.48],[2.59,3.16],[2.61,3.61],[2.72,4.17],[2.79,3.67],[2.82,3.23],[2.91,4.43],[2.91,3.87],[3,4.64],[3.02,4.04],[3.06,3.83],[3.13,3.73],[3.27,4.42],[3.46,4.46],[3.54,4.64],[3.63,4.9],[3.63,4.17],[3.67,4.46],[3.74,4.62],[3.79,4.32],[3.82,4.78],[3.96,5.19],[3.99,4.78],[4.04,5.57],[4.21,4.92],[4.25,4.74],[4.4,4.8],[4.41,5.43],[4.49,5.37],[4.49,5.12],[4.71,4.8],[4.73,5.69],[4.77,5.91],[5.16,6.6],[5.24,6.21],[5.34,6.34],[5.58,6.46],[5.63,6.82],[5.68,7.26],[6,6.76],[6.71,7.27],[6.78,7.14],[7.09,8.95],[7.99,9.01],[8.39,8.93],[8.63,9.22],[9.2,11.09]];

/* ---------- panel (b): fitted curves ---------- */
const curveMu      = [-2,-1,0,1,2,3,4,5,6,7,8,9,10,11,12,13,14,15];
const convective   = [0.12,0.56,1.28,2.12,3.05,4.03,5.04,6.05,7.06,8.06,9.05,10.03,11,11.98,12.97,13.96,14.97,16];
const stratiform   = [0.03,0.52,1.5,2.65,3.9,5.3,6.75,8.25,9.8,11.26,12.72,14.2,15.7,17.28,18.87,20.47,22.08,23.7];
const gatidis2020  = [0.47,1.25,2.2,3.27,4.44,5.68,6.99,8.36,9.79,11.25,12.77,14.32,15.92,17.57,19.27,21.02,22.81,24.65];
const vanLeth2020  = [0.1,1.02,1.99,3.02,4.08,5.2,6.35,7.55,8.82,10.15,11.55,12.97,14.47,16.02,17.6,19.22,20.88,22.6];
const zhang2003    = [0.61,1.24,1.94,2.71,3.55,4.47,5.46,6.52,7.66,8.87,10.15,11.51,12.94,14.45,16.03,17.68,19.41,21.21];
const zhang2001    = [0.02,0.8,1.6,2.42,3.32,4.3,5.3,6.32,7.35,8.35,9.4,10.5,11.67,12.9,14.2,15.58,17,18.45];

/* ---------- axis functions ---------- */
const xA = mu => 158.5 + (mu + 2) * 102.54;
const yA = v  => 1251.7 - v * 41.17;
const xB = mu => 151.2 + (mu + 2) * 112.1;
const yB = v  => 2629 - v * 40.2;

const NS = 'http://www.w3.org/2000/svg';
function make(tag, parent, attrs) {
  const el = document.createElementNS(NS, tag);
  for (const k in attrs) el.setAttribute(k, attrs[k]);
  parent.appendChild(el);
  return el;
}
const winter = d => 'rgb(0,' + Math.round(255 * d) + ',' + Math.round(255 - 127.5 * d) + ')';

function starPath(cx, cy, R) {
  let d = '';
  for (let i = 0; i < 10; i++) {
    const r = i % 2 ? R * 0.382 : R;
    const a = -Math.PI / 2 + i * Math.PI / 5;
    d += (i ? 'L' : 'M') + (cx + r * Math.cos(a)).toFixed(1) + ' ' + (cy + r * Math.sin(a)).toFixed(1);
  }
  return d + 'Z';
}

/* ---------- density cloud ---------- */
const bandPts = [];
bandMu.forEach((m, i) => bandPts.push(xA(m).toFixed(1) + ',' + yA(bandTop[i]).toFixed(1)));
for (let i = bandMu.length - 1; i >= 0; i--) bandPts.push(xA(bandMu[i]).toFixed(1) + ',' + yA(bandBottom[i]).toFixed(1));
document.getElementById('band-clip-shape').setAttribute('points', bandPts.join(' '));
const bandBase = make('polygon', document.getElementById('band-under'), {points: bandPts.join(' '), fill: 'rgb(0,25,243)'});



const mesh = document.getElementById('band-mesh');
function edgeValue(i, j) {
  /* j runs 0..8 from bottom edge to ridge, 9..17 from ridge to top edge */
  if (j <= 8) return bandBottom[i] + (bandRidge[i] - bandBottom[i]) * j / 8;
  return bandRidge[i] + (bandTop[i] - bandRidge[i]) * (j - 9) / 8;
}
const sideDensity = j => j <= 8 ? lowerSideDensity[j] : upperSideDensity[j - 9];
for (let i = 0; i < bandMu.length - 1; i++) {
  for (let j = 0; j < 17; j++) {
    const pts = [
      [xA(bandMu[i]), yA(edgeValue(i, j))],
      [xA(bandMu[i + 1]), yA(edgeValue(i + 1, j))],
      [xA(bandMu[i + 1]), yA(edgeValue(i + 1, j + 1))],
      [xA(bandMu[i]), yA(edgeValue(i, j + 1))]
    ].map(p => p[0].toFixed(1) + ',' + p[1].toFixed(1)).join(' ');
    const d = (bandPeak[i] + bandPeak[i + 1]) / 2 * (sideDensity(j) + sideDensity(j + 1)) / 2;
    const c = winter(Math.min(1, d));
    const cell = make('polygon', mesh, {points: pts, fill: c, stroke: c, 'stroke-width': 1.2});
    
    
  }
}

const gapGroup = document.getElementById('band-gaps');
cloudGaps.forEach(g => {
  const gap = make('circle', gapGroup, {cx: xA(g[0]).toFixed(1), cy: yA(g[1]).toFixed(1), r: 3.8, fill: '#fff'});
  
  
});

/* ---------- stratiform points ---------- */
const dotGroup = document.getElementById('strat-dots');
[stratUpperEdge, stratLowerEdge].forEach(list => {
  list.forEach(p => {
    const dot = make('circle', dotGroup, {cx: xA(p[0]).toFixed(1), cy: yA(p[1]).toFixed(1), r: 5.5, fill: 'rgb(0,12,250)'});
    
    
  });
});
[stratLeftTail, stratUpperMid, stratUpperRight, stratTopRight, stratLowerLeft, stratLowerMid, stratLowerRight, stratLowerFar, stratLowerCrowd].forEach(list => {
  list.forEach(p => {
    const dot = make('circle', dotGroup, {cx: xA(p[0]).toFixed(1), cy: yA(p[1]).toFixed(1), r: 5.5, fill: '#00f'});
    
    
  });
});

/* ---------- convective stars ---------- */
const starGroup = document.getElementById('conv-stars');
convectivePoints.forEach(p => {
  const star = make('path', starGroup, {d: starPath(xA(p[0]), yA(p[1]), 9.2), fill: '#f00', stroke: '#4a0000', 'stroke-width': 0.9});
  
  
});
document.getElementById('legend-star').setAttribute('d', starPath(245, 148.5, 31));

/* ---------- axes ---------- */
function drawAxes(groupId, xf, yf, left, bottom, sw, xBase, yRight, yOffset, stretch) {
  const g = document.getElementById(groupId);
  xTicks.forEach(t => {
    const mark = make('line', g, {x1: xf(t), x2: xf(t), y1: bottom, y2: bottom + 9, stroke: '#111', 'stroke-width': sw});
    
    
    const lab = make('text', g, {transform: 'translate(' + xf(t) + ',' + xBase + ') scale(1,' + stretch + ')', 'text-anchor': 'middle', class: 'tick'});
    
    
    lab.textContent = t;
  });
  yTicks.forEach(t => {
    const mark = make('line', g, {x1: left - 9, x2: left, y1: yf(t), y2: yf(t), stroke: '#111', 'stroke-width': sw});
    
    
    const lab = make('text', g, {transform: 'translate(' + yRight + ',' + (yf(t) + yOffset) + ') scale(1,' + stretch + ')', 'text-anchor': 'end', class: 'tick'});
    
    
    lab.textContent = t;
  });
}
drawAxes('axes-a', xA, yA, 158.5, 1251.7, 2.6, 1300, 138, 15, 1.04);
drawAxes('axes-b', xB, yB, 151.2, 2629, 2.2, 2676, 132, 15.5, 1.09);

/* ---------- panel (b) curves ---------- */
const plotB = document.getElementById('plot-b');
function smoothPath(values) {
  const p = curveMu.map((m, i) => [xB(m), yB(values[i])]);
  let d = 'M' + p[0][0].toFixed(1) + ' ' + p[0][1].toFixed(1);
  for (let i = 0; i < p.length - 1; i++) {
    const a = p[Math.max(i - 1, 0)], b = p[i], c = p[i + 1], e = p[Math.min(i + 2, p.length - 1)];
    d += 'C' + (b[0] + (c[0] - a[0]) / 6).toFixed(1) + ' ' + (b[1] + (c[1] - a[1]) / 6).toFixed(1) +
         ' ' + (c[0] - (e[0] - b[0]) / 6).toFixed(1) + ' ' + (c[1] - (e[1] - b[1]) / 6).toFixed(1) +
         ' ' + c[0].toFixed(1) + ' ' + c[1].toFixed(1);
  }
  return d;
}
function drawCurve(values, color, dash, name) {
  const line = make('path', plotB, {d: smoothPath(values), fill: 'none', stroke: color, 'stroke-width': 4.9, 'stroke-linejoin': 'round'});
  if (dash) line.setAttribute('stroke-dasharray', dash);
  
  
}
drawCurve(convective, '#f00', '', 'convective-curve');
drawCurve(stratiform, '#00f', '', 'stratiform-curve');
drawCurve(gatidis2020, '#000', '', 'gatidis-2020-curve');
drawCurve(vanLeth2020, '#000', '31.4 7.8 4.9 7.8', 'van-leth-2020-curve');
drawCurve(zhang2003, '#000', '18.1 7.8', 'zhang-2003-curve');
drawCurve(zhang2001, '#000', '4.9 8.1', 'zhang-2001-curve');
</script>
</body>
</html>
